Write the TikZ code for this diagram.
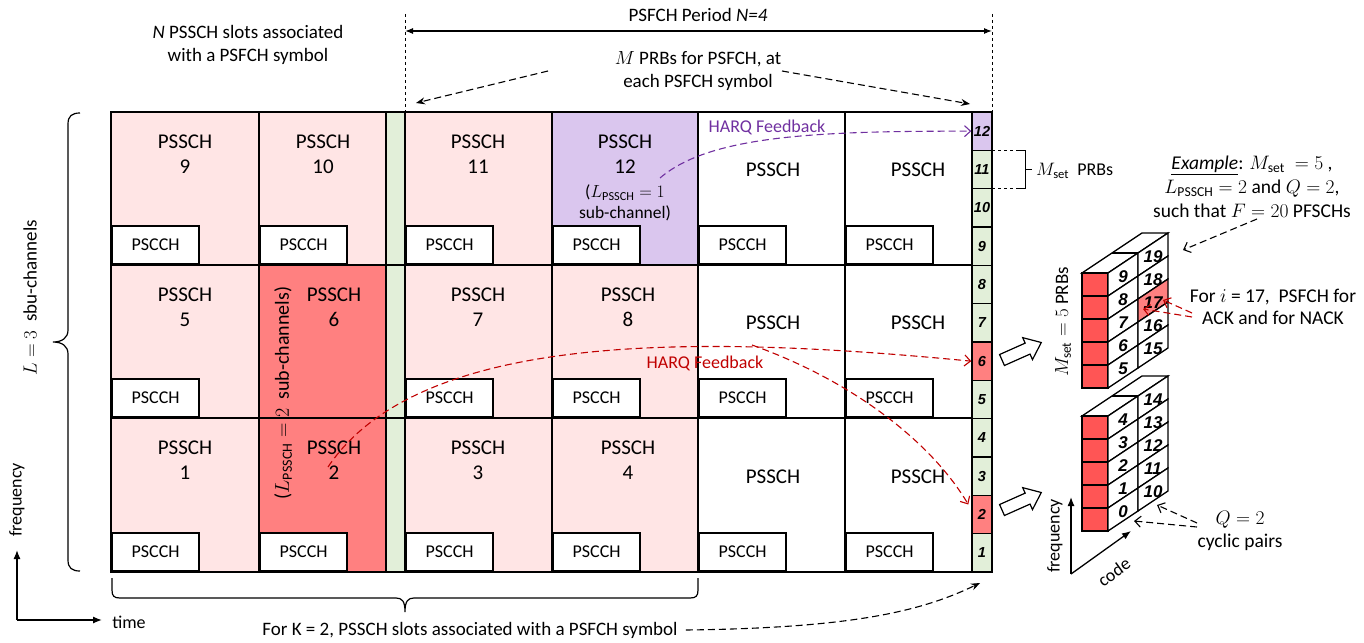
\documentclass[tikz,border=0pt]{standalone}
\usepackage{fix-cm}
\usepackage{fontspec}
\setmainfont{Carlito}
\newfontfamily\arialf{Liberation Sans}
\usetikzlibrary{arrows.meta,calc}
\definecolor{pinkc}{HTML}{FFE5E5}
\definecolor{redc}{HTML}{FF8080}
\definecolor{cubered}{HTML}{FF5555}
\definecolor{purplec}{HTML}{DAC6EE}
\definecolor{greenc}{HTML}{E2EFD9}
\definecolor{harqred}{HTML}{C00000}
\definecolor{harqpurple}{HTML}{7030A0}
\begin{document}
\begin{tikzpicture}[x=1pt,y=-1pt,
  txt/.style={inner sep=0pt, align=center, font=\fontsize{19}{22.5}\selectfont},
  rtxt/.style={inner sep=0pt, align=center, font=\fontsize{19.5}{22.5}\selectfont},
  ssch/.style={inner sep=0pt, align=center, font=\fontsize{21}{25}\selectfont},
  pscchbox/.style={draw, fill=white, line width=2.2pt, anchor=south west, minimum width=87pt, minimum height=38pt, inner sep=0pt, font=\fontsize{18}{20}\selectfont},
  gridline/.style={line width=2.6pt, line cap=rect},
  fcell/.style={draw, line width=1.4pt, minimum width=20pt, minimum height=38.33pt, inner sep=0pt, font=\arialf\bfseries\itshape\fontsize{14.5}{15}\selectfont},
  cnum/.style={inner sep=0pt, font=\arialf\bfseries\itshape\fontsize{17}{17}\selectfont},
  solidarr/.style={-{Latex[length=9pt,width=7pt]}},
  dasharr/.style={dash pattern=on 7pt off 4pt, line width=1.1pt, -{Straight Barb[length=6pt,width=11pt]}},
  kdash/.style={dash pattern=on 7pt off 4pt, line width=1.1pt, -{Stealth[length=9pt,width=7pt]}},
]
\useasboundingbox (0,0) rectangle (1364,642);
% ---------- fills
\fill[pinkc] (111,112) rectangle (259,572);
\fill[pinkc] (259,112) rectangle (386,265);
\fill[redc] (259,265) rectangle (386,572);
\fill[greenc] (386,112) rectangle (405,572);
\fill[pinkc] (405,112) rectangle (552,572);
\fill[purplec] (552,112) rectangle (698,265);
\fill[pinkc] (552,265) rectangle (698,572);
% ---------- PSCCH boxes
\foreach \xx/\cn in {111/a,405/c,552/d,698/e,845/f}{
  \foreach \yy/\rn in {265/1,418/2,572/3}{
    \node[pscchbox] (pscch-\cn\rn) at (\xx,\yy) {PSCCH};
  }
}
\node[pscchbox] (pscch-b1) at (259,265) {PSCCH};
\node[pscchbox] (pscch-b3) at (259,572) {PSCCH};
% ---------- grid
\foreach \xx in {111,259,386,405,552,698,845,972}{\draw[gridline] (\xx,112) -- (\xx,572);}
\foreach \yy in {112,265,418,572}{\draw[gridline] (111,\yy) -- (972,\yy);}
% ---------- PSFCH column
\foreach \n/\cc in {1/greenc,2/redc,3/greenc,4/greenc,5/greenc,6/redc,7/greenc,8/greenc,9/greenc,10/greenc,11/greenc,12/purplec}{
  \node[fcell, fill=\cc] (f\n) at (982,{572-(\n-0.5)*460/12}) {\n};
}
\draw[gridline] (972,112) rectangle (992,572);
% ---------- PSSCH labels
\node[ssch] (s9) at (185,154.5) {PSSCH\\9};
\node[ssch] (s10) at (323,154.5) {PSSCH\\10};
\node[ssch] (s11) at (478,154.5) {PSSCH\\11};
\node[ssch] (s12) at (625,154.5) {PSSCH\\12};
\node[txt, font=\fontsize{17.5}{20.5}\selectfont] (s12n) at (625,203) {($L_{\mathrm{PSSCH}}=1$\\sub-channel)};
\node[ssch] (s5) at (185,307.5) {PSSCH\\5};
\node[ssch] (s6) at (334,307.5) {PSSCH\\6};
\node[ssch] (s7) at (478,307.5) {PSSCH\\7};
\node[ssch] (s8) at (628,307.5) {PSSCH\\8};
\node[ssch] (s1) at (185,460.5) {PSSCH\\1};
\node[ssch] (s2) at (334,460.5) {PSSCH\\2};
\node[ssch] (s3) at (478,460.5) {PSSCH\\3};
\node[ssch] (s4) at (628,460.5) {PSSCH\\4};
\foreach \yy/\rn in {170/1,323/2,477/3}{
  \node[ssch] (pe\rn) at (773,\yy) {PSSCH};
  \node[ssch] (pf\rn) at (918,\yy) {PSSCH};
}
\node[txt, rotate=90, font=\fontsize{20}{22}\selectfont] (lsub2) at (283,393) {($L_{\mathrm{PSSCH}}=2$\ \ sub-channels)};
% ---------- top annotations
\node[txt] (ntext) at (248,45) {\textit{N} PSSCH slots associated\\with a PSFCH symbol};
\coordinate (dl1) at (405,14); \coordinate (dl2) at (405,112);
\coordinate (dr1) at (992,14); \coordinate (dr2) at (992,112);
\draw[dashed, line width=1pt] (dl1) -- (dl2);
\draw[dashed, line width=1pt] (dr1) -- (dr2);
\node[txt] (period) at (698,15) {PSFCH Period \textit{N=4}};
\coordinate (pl) at (405,31); \coordinate (pr) at (992,31);
\draw[{Latex[length=8pt,width=6pt]}-{Latex[length=8pt,width=6pt]}, line width=1.1pt] (pl) -- (pr);
\node[txt] (mprb) at (698,71) {$M$ PRBs for PSFCH, at\\each PSFCH symbol};
\coordinate (ma1) at (548,71); \coordinate (ma2) at (416,103);
\coordinate (mb1) at (782,71); \coordinate (mb2) at (970,104);
\draw[kdash] (ma1) -- (ma2);
\draw[kdash] (mb1) -- (mb2);
% ---------- Mset bracket
\coordinate (b1) at (992,150); \coordinate (b2) at (1025,150);
\coordinate (b3) at (1025,188); \coordinate (b4) at (992,188);
\draw[dashed, line width=1pt] (b1) -- (b2);
\draw[dashed, line width=1pt] (b4) -- (b3);
\draw[line width=1pt] (1018,150) -- (b2) -- (b3) -- (1018,188);
\draw[line width=1pt] (1025,169) -- (1032,169);
\node[txt, anchor=west, font=\fontsize{18}{20}\selectfont] (msetprb) at (1036,171) {$M_{\mathrm{set}}$\ \ PRBs};
% ---------- Example
\node[rtxt, font=\fontsize{19.5}{24}\selectfont] (ex) at (1252,187) {\underline{\textit{Example}}: $M_{\mathrm{set}}\ =5$ ,\\$L_{\mathrm{PSSCH}}=2$ and $Q=2$,\\such that $F=20$ PFSCHs};
% ---------- cubes
\foreach \tp/\ba/\bb in {273/5/15,416/0/10}{
  \draw[fill=white, line width=1.3pt] (1082,\tp) -- (1108,\tp) -- (1168,{\tp-40}) -- (1142,{\tp-40}) -- cycle;
  \draw[line width=1.3pt] (1112,{\tp-20}) -- (1138,{\tp-20});
  \foreach \k in {0,...,4}{
    \pgfmathtruncatemacro\la{\ba+4-\k}
    \pgfmathtruncatemacro\lb{\bb+4-\k}
    \def\fc{white}\ifnum\lb=17 \def\fc{redc}\fi
    \draw[fill=cubered, line width=1.3pt] (1082,{\tp+\k*23}) rectangle (1108,{\tp+\k*23+23});
    \draw[fill=white, line width=1.3pt] (1108,{\tp+\k*23}) -- (1138,{\tp+\k*23-20}) -- (1138,{\tp+\k*23+3}) -- (1108,{\tp+\k*23+23}) -- cycle;
    \draw[fill=\fc, line width=1.3pt] (1138,{\tp+\k*23-20}) -- (1168,{\tp+\k*23-40}) -- (1168,{\tp+\k*23-17}) -- (1138,{\tp+\k*23+3}) -- cycle;
    \node[cnum] (cube\la) at (1123,{\tp+\k*23+4}) {\la};
    \node[cnum] (cube\lb) at (1153,{\tp+\k*23-16}) {\lb};
  }
}
\node[txt, rotate=90] (mset5) at (1063,322) {$M_{\mathrm{set}}=5$ PRBs};
\coordinate (exa) at (1257,219); \coordinate (exb) at (1183,250);
\draw[dasharr] (exa) -- (exb);
\node[rtxt] (fori) at (1273,307) {For $i$ = 17,\ \ PSFCH for\\ACK and for NACK};
\coordinate (ia) at (1192,317); \coordinate (ib) at (1143,309);
\coordinate (ic) at (1192,313); \coordinate (id) at (1163,300);
\draw[harqred, dasharr] (ia) -- (ib);
\draw[harqred, dasharr] (ic) -- (id);
% code/frequency axes
\coordinate (ax0) at (1071,574); \coordinate (axf) at (1071,497); \coordinate (axc) at (1131,531);
\draw[solidarr, line width=1.3pt] (ax0) -- (axf);
\draw[solidarr, line width=1.3pt] (ax0) -- (axc);
\node[txt, rotate=90, font=\fontsize{18}{20}\selectfont] (freq2) at (1055,536) {frequency};
\node[txt, rotate=36, font=\fontsize{18}{20}\selectfont] (code) at (1114,572) {code};
\node[rtxt] (q) at (1240,531) {$Q=2$\\cyclic pairs};
\coordinate (qa) at (1197,527); \coordinate (qb) at (1134,521);
\coordinate (qc) at (1197,523); \coordinate (qd) at (1157,505);
\draw[dasharr] (qa) -- (qb);
\draw[dasharr] (qc) -- (qd);
% hollow arrows
\foreach \yy in {360,510}{
  \draw[fill=white, line width=1.2pt, shift={(1002,\yy)}, rotate=24] (0,-6) -- (28,-6) -- (28,-12) -- (43,0) -- (28,12) -- (28,6) -- (0,6) -- cycle;
}
% ---------- HARQ arrows
\coordinate (h12) at (660,178);
\draw[harqpurple, dasharr] (h12) .. controls (710,135) and (820,131) .. (f12.west);
\node[txt, text=harqpurple, font=\fontsize{18}{20}\selectfont] (hq1) at (767,127) {HARQ Feedback};
\coordinate (h2) at (328,467);
\coordinate (br) at (752,345);
\draw[harqred, dasharr] (h2) .. controls (420,330) and (700,335) .. (f6.west);
\draw[harqred, dasharr] (br) .. controls (850,380) and (930,440) .. ($(f2.west)+(-3,-10)$);
\node[txt, text=harqred, font=\fontsize{18}{20}\selectfont] (hq2) at (705,363) {HARQ Feedback};
% ---------- left brace
\draw[line width=1.2pt] (80,113) .. controls (72,113) and (68,116) .. (68,124) -- (68,330) .. controls (68,338) and (62,342) .. (53,342) .. controls (62,342) and (68,346) .. (68,354) -- (68,560) .. controls (68,568) and (72,571) .. (80,571);
\node[txt, rotate=90] (lsub) at (30,298) {$L=3$\ \ sbu-channels};
% ---------- bottom brace
\draw[line width=1.2pt] (112,578) -- (112,590) .. controls (112,596) and (114,598) .. (120,598) -- (396,598) .. controls (402,598) and (405,601) .. (405,612) .. controls (405,601) and (408,598) .. (414,598) -- (690,598) .. controls (696,598) and (698,596) .. (698,590) -- (698,578);
\node[txt] (fork) at (470,630) {For K = 2, PSSCH slots associated with a PSFCH symbol};
\coordinate (kend) at (980,583);
\draw[kdash] (fork.east) ++(8,0) .. controls (850,628) and (920,612) .. (kend);
% ---------- time/frequency axes
\coordinate (o) at (17,620); \coordinate (ofr) at (17,550); \coordinate (oti) at (102,620);
\draw[solidarr, line width=1.3pt] (o) -- (ofr);
\draw[solidarr, line width=1.3pt] (o) -- (oti);
\node[txt, rotate=90, font=\fontsize{18}{20}\selectfont] (freq1) at (17,500) {frequency};
\node[txt, font=\fontsize{18}{20}\selectfont] (time) at (129,622) {time};
\end{tikzpicture}
\end{document}
